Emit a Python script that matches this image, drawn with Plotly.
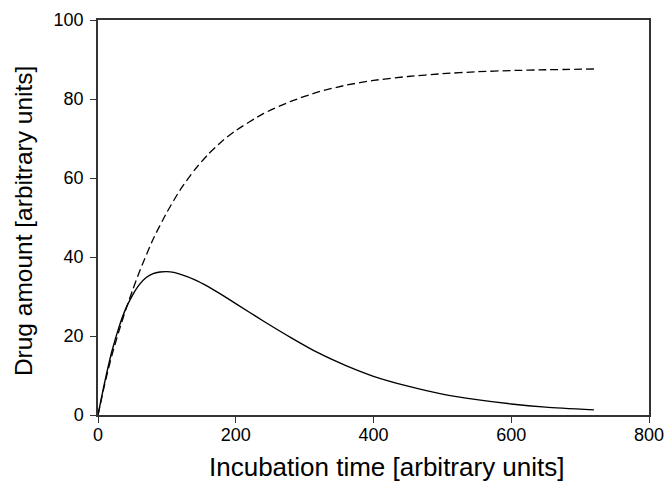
import plotly.graph_objects as go

# Incubation time points (arbitrary units)
time_dashed = [0, 10, 20, 30, 40, 50, 60, 80, 100, 120, 140, 160, 180, 200,
               240, 280, 320, 360, 400, 450, 500, 550, 600, 650, 720]
amount_dashed = [0, 8.0, 15.0, 21.0, 26.5, 31.5, 36.2, 44.5, 51.3, 57.2, 62.0,
                 66.0, 69.3, 72.0, 76.3, 79.4, 81.8, 83.5, 84.7, 85.7, 86.4,
                 86.9, 87.2, 87.4, 87.6]

time_solid = [0, 10, 20, 30, 40, 50, 60, 70, 80, 90, 100, 110, 120, 140, 160,
              180, 200, 240, 280, 320, 360, 400, 450, 500, 550, 600, 650, 720]
amount_solid = [0, 8.5, 16.0, 22.0, 26.8, 30.3, 33.0, 34.8, 35.8, 36.2, 36.3,
                36.1, 35.6, 34.3, 32.5, 30.4, 28.2, 23.8, 19.6, 15.7, 12.5,
                9.8, 7.3, 5.3, 3.9, 2.8, 2.0, 1.3]

x_ticks = [0, 200, 400, 600, 800]
y_ticks = [0, 20, 40, 60, 80, 100]
x_title = "Incubation time [arbitrary units]"
y_title = "Drug amount [arbitrary units]"

FONT = "Liberation Sans, Arial, Helvetica"

fig = go.Figure()
fig.add_trace(go.Scatter(x=time_dashed, y=amount_dashed, mode="lines",
                         line=dict(color="black", width=1.3, dash="8px,4px",
                                   shape="spline", smoothing=0.6),
                         showlegend=False))
fig.add_trace(go.Scatter(x=time_solid, y=amount_solid, mode="lines",
                         line=dict(color="black", width=1.4,
                                   shape="spline", smoothing=0.6),
                         showlegend=False))

axis_common = dict(showgrid=False, zeroline=False, showline=True,
                   linecolor="#333333", linewidth=1.5, mirror=True,
                   ticks="outside", ticklen=6, tickwidth=1.2,
                   tickcolor="#333333", automargin=False,
                   tickfont=dict(family=FONT, size=18, color="black"))

fig.update_layout(
    width=667, height=492,
    margin=dict(l=98, r=18, t=20, b=77),
    paper_bgcolor="white", plot_bgcolor="white",
    font=dict(family=FONT, color="black"),
    xaxis=dict(range=[0, 800], tickvals=x_ticks, ticklabelstandoff=-3,
               **axis_common),
    yaxis=dict(range=[0, 100], tickvals=y_ticks, ticklabelstandoff=3,
               **axis_common),
    annotations=[
        dict(text=x_title, xref="paper", yref="paper", x=0.5254, y=-0.131,
             xanchor="center", yanchor="middle", showarrow=False,
             font=dict(family=FONT, size=26, color="black")),
        dict(text=y_title, xref="paper", yref="paper", x=-0.136, y=0.491,
             xanchor="center", yanchor="middle", showarrow=False,
             textangle=-90,
             font=dict(family=FONT, size=24.5, color="black")),
    ],
)

fig.write_html("out.html")
